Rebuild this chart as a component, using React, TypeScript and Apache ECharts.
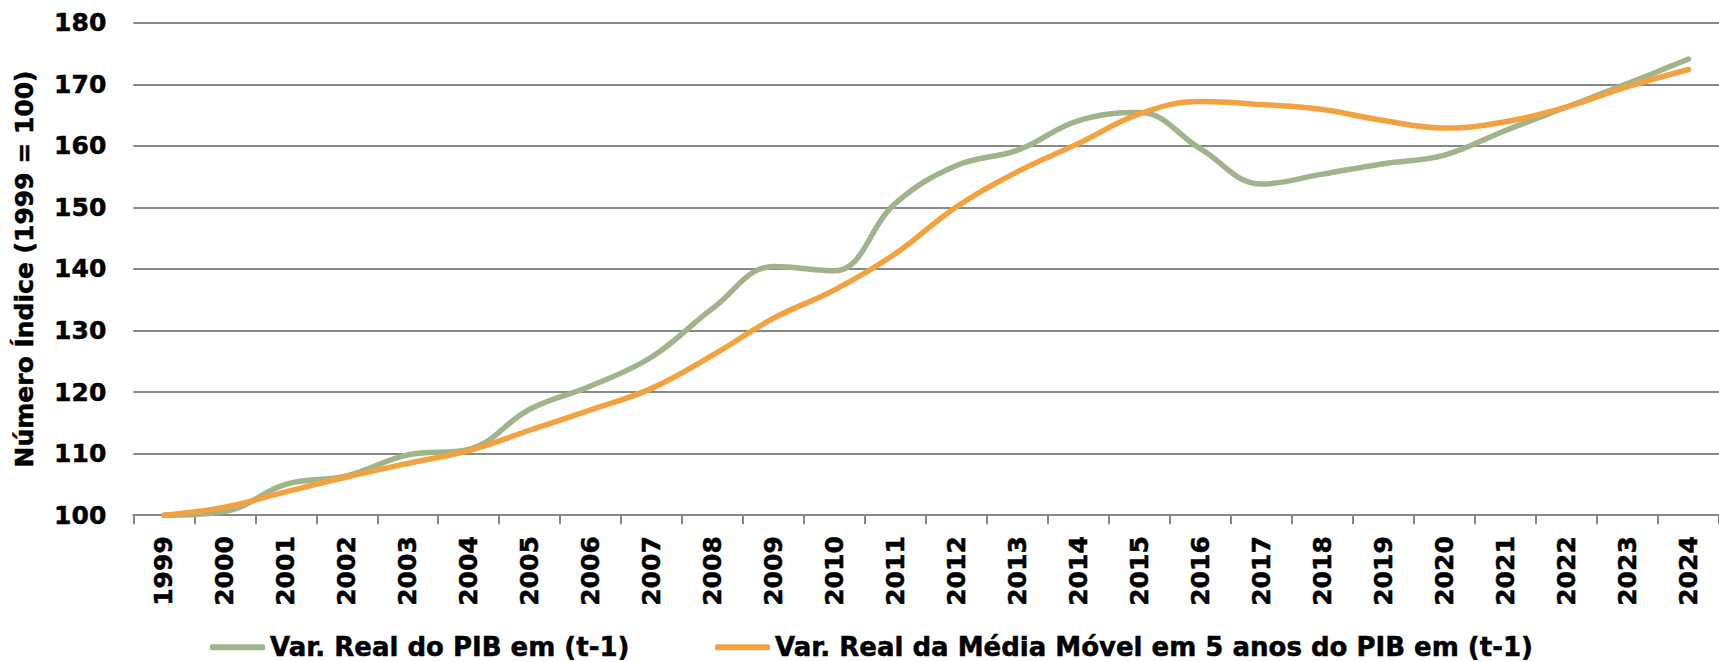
import React, { useEffect, useRef } from "react";
import * as echarts from "echarts";

const years = ["1999","2000","2001","2002","2003","2004","2005","2006","2007","2008","2009","2010","2011","2012","2013","2014","2015","2016","2017","2018","2019","2020","2021","2022","2023","2024"];
const pibReal = [100, 100.6, 105.0, 106.4, 109.8, 110.7, 117.2, 121.0, 125.7, 133.6, 140.4, 139.7, 150.7, 156.8, 159.3, 164.1, 165.4, 159.5, 153.8, 155.4, 157.1, 158.5, 162.5, 166.3, 170.1, 174.1];
const mediaMovel = [100, 101.3, 103.8, 106.2, 108.4, 110.5, 113.8, 117.1, 120.6, 126.0, 132.0, 136.6, 142.5, 150.1, 155.8, 160.4, 165.2, 167.2, 166.7, 165.9, 164.1, 162.9, 163.9, 166.3, 169.6, 172.4];
const nameGreen = "Var. Real do PIB em (t-1)";
const nameOrange = "Var. Real da Média Móvel em 5 anos do PIB em (t-1)";
const yTitle = "Número Índice (1999 = 100)";

const FONT = "DejaVu Sans";
const GREEN = "#A0B48C";
const ORANGE = "#F2A240";
const GRAY = "#888888";

export default function App() {
  const ref = useRef<HTMLDivElement>(null);
  useEffect(() => {
    if (!ref.current) return;
    const chart = echarts.init(ref.current, undefined, { renderer: "svg" });
    const txt = {
      fontFamily: FONT, fontSize: 25, fontWeight: "bold" as const, color: "#000",
      textBorderColor: "#000", textBorderWidth: 0.5,
    };
    const legTxt = { ...txt, fontSize: 26, lineHeight: 25 };
    chart.setOption({
      animation: false,
      grid: { left: 133.3, top: 22.7, width: 1594.7, height: 492.5, containLabel: false },
      legend: [
        {
          data: [nameGreen], left: 210, top: 634, itemWidth: 55, itemHeight: 6,
          icon: "roundRect", textStyle: legTxt, padding: 0,
        },
        {
          data: [nameOrange], left: 715, top: 634, itemWidth: 55, itemHeight: 6,
          icon: "roundRect", textStyle: legTxt, padding: 0,
        },
      ],
      xAxis: {
        type: "category",
        data: years,
        boundaryGap: true,
        axisLine: { show: true, lineStyle: { color: GRAY, width: 2 } },
        axisTick: { show: true, length: 9, lineStyle: { color: GRAY, width: 2 } },
        axisLabel: { ...txt, rotate: 90, margin: 21, interval: 0 },
        splitLine: { show: false },
      },
      yAxis: {
        type: "value",
        min: 100,
        max: 180,
        interval: 10,
        name: yTitle,
        nameLocation: "middle",
        nameRotate: 90,
        nameGap: 96,
        nameTextStyle: { ...txt },
        axisLine: { show: false },
        axisTick: { show: false },
        axisLabel: { ...txt, margin: 27 },
        splitLine: { show: true, lineStyle: { color: GRAY, width: 2 } },
      },
      series: [
        {
          name: nameGreen, type: "line", data: pibReal, smooth: 0.4,
          showSymbol: false, symbol: "none",
          lineStyle: { color: GREEN, width: 5.5, cap: "round" },
          itemStyle: { color: GREEN },
        },
        {
          name: nameOrange, type: "line", data: mediaMovel, smooth: 0.4,
          showSymbol: false, symbol: "none",
          lineStyle: { color: ORANGE, width: 5.5, cap: "round" },
          itemStyle: { color: ORANGE },
        },
      ],
    });
    return () => chart.dispose();
  }, []);
  return (
    <div
      ref={ref}
      style={{ position: "absolute", left: 0, top: 0, width: 1719, height: 662, background: "#fff" }}
    />
  );
}
